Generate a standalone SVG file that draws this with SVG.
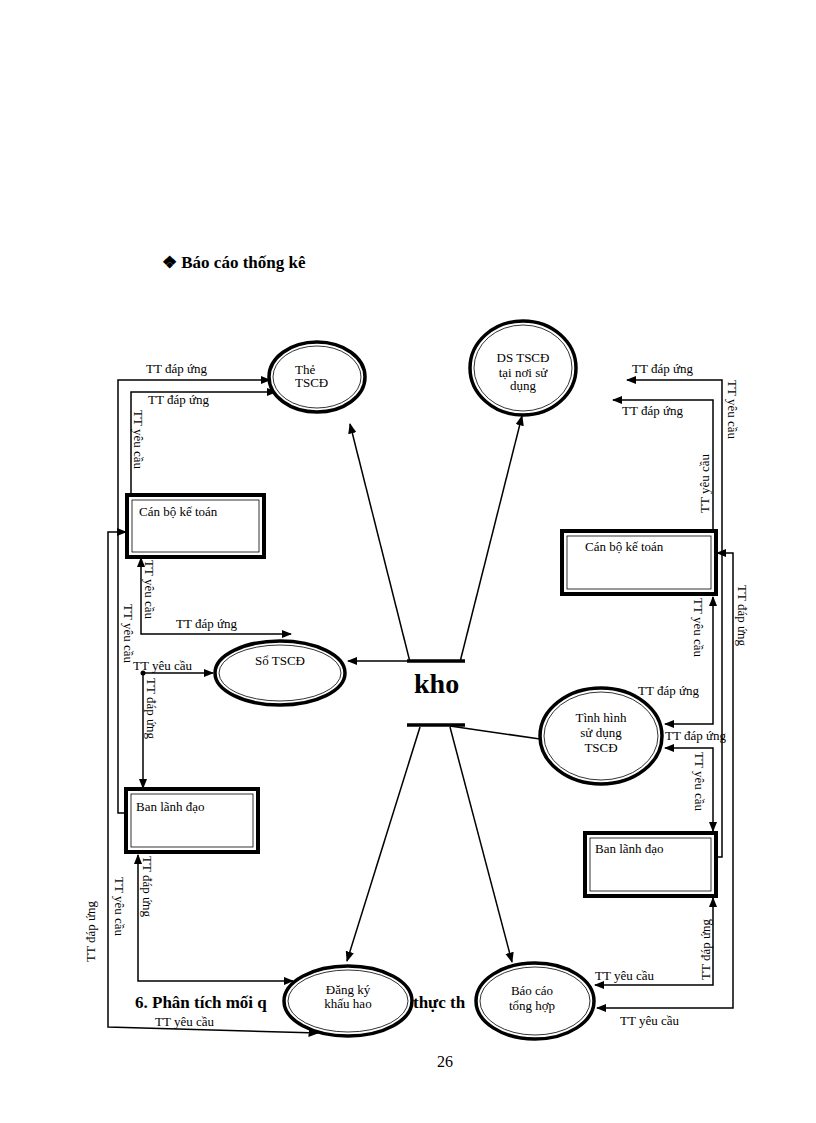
<svg xmlns="http://www.w3.org/2000/svg" width="816" height="1123" viewBox="0 0 816 1123">
<style>
text{font-family:"Liberation Serif","Times New Roman",serif;font-size:13px;fill:#000}
.b{font-weight:bold}
.e{fill:#fff;stroke:#000;stroke-width:3.5}
.ei{fill:none;stroke:#000;stroke-width:0.8}
.r{fill:#fff;stroke:#000;stroke-width:4}
.ri{fill:none;stroke:#000;stroke-width:0.8}
.c{fill:none;stroke:#000;stroke-width:1.5}
</style>
<defs>
<marker id="a" viewBox="0 0 10 10" refX="9" refY="5" markerWidth="7" markerHeight="7" orient="auto-start-reverse"><path d="M0,1 L10,5 L0,9 z"/></marker>
</defs>
<rect width="816" height="1123" fill="#fff"/>
<text x="162" y="268" class="b" style="font-size:17px">❖ Báo cáo thống kê</text>
<text x="135" y="1008" class="b" style="font-size:17px">6. Phân tích mối q</text>
<text x="413" y="1008" class="b" style="font-size:17px">thực th</text>
<text x="437" y="1067" style="font-size:16px">26</text>

<g id="connectors">
<path class="c" d="M410,662 L350,424" marker-end="url(#a)"/>
<path class="c" d="M460,662 L522,416" marker-end="url(#a)"/>
<path class="c" d="M407,661 L348,661" marker-end="url(#a)"/>
<path class="c" d="M450,726 L540,739"/>
<path class="c" d="M420,727 L347,961" marker-end="url(#a)"/>
<path class="c" d="M450,727 L512,962" marker-end="url(#a)"/>
<!-- left -->
<path class="c" d="M125,813 L118,813 L118,380 L270,380" marker-end="url(#a)"/>
<path class="c" d="M131,494 L131,392 L276,392" marker-end="url(#a)"/>
<path class="c" d="M126,532 L108,532 L108,1027 L318,1033" marker-start="url(#a)" marker-end="url(#a)"/>
<path class="c" d="M141,558 L141,634 L291,634" marker-start="url(#a)" marker-end="url(#a)"/>
<path class="c" d="M143,673 L213,673" marker-end="url(#a)"/>
<path class="c" d="M143,673 L143,788" marker-end="url(#a)"/>
<circle cx="143" cy="673" r="2.5"/>
<path class="c" d="M138,855 L138,981 L293,981" marker-start="url(#a)" marker-end="url(#a)"/>
<!-- right -->
<path class="c" d="M716,857 L722,857 L722,380 L627,380" marker-end="url(#a)"/>
<path class="c" d="M722,553 L717,553" marker-end="url(#a)"/>
<path class="c" d="M713,530 L713,400 L613,400"  marker-end="url(#a)"/>
<path class="c" d="M718,553 L733,553 L733,1008 L597,1008" marker-end="url(#a)"/>
<path class="c" d="M713,597 L713,724 L665,724" marker-start="url(#a)" marker-end="url(#a)"/>
<path class="c" d="M665,748 L713,748 L713,831" marker-start="url(#a)" marker-end="url(#a)"/>
<path class="c" d="M713,898 L713,985 L595,985" marker-start="url(#a)" marker-end="url(#a)"/>
</g>
<g id="labels">
<text x="146" y="373">TT đáp ứng</text>
<text x="148" y="404">TT đáp ứng</text>
<text transform="translate(134,410) rotate(90)">TT yêu cầu</text>
<text transform="translate(145,560) rotate(90)">TT yêu cầu</text>
<text transform="translate(124,604) rotate(90)">TT yêu cầu</text>
<text x="176" y="628">TT đáp ứng</text>
<text x="133" y="670">TT yêu cầu</text>
<text transform="translate(147,678) rotate(90)">TT đáp ứng</text>
<text transform="translate(143,856) rotate(90)">TT đáp ứng</text>
<text transform="translate(115,877) rotate(90)">TT yêu cầu</text>
<text transform="translate(95,962) rotate(-90)">TT đáp ứng</text>
<text x="155" y="1026">TT yêu cầu</text>
<text x="632" y="373">TT đáp ứng</text>
<text x="622" y="415">TT đáp ứng</text>
<text transform="translate(728,380) rotate(90)">TT yêu cầu</text>
<text transform="translate(709,513) rotate(-90)">TT yêu cầu</text>
<text transform="translate(738,585) rotate(90)">TT đáp ứng</text>
<text transform="translate(694,598) rotate(90)">TT yêu cầu</text>
<text x="638" y="695">TT đáp ứng</text>
<text x="665" y="740">TT đáp ứng</text>
<text transform="translate(695,752) rotate(90)">TT yêu cầu</text>
<text transform="translate(710,980) rotate(-90)">TT đáp ứng</text>
<text x="595" y="980">TT yêu cầu</text>
<text x="620" y="1025">TT yêu cầu</text>
</g>

<g id="kho">
<line x1="407" y1="661" x2="465" y2="661" stroke="#000" stroke-width="3.5"/>
<line x1="407" y1="725" x2="465" y2="725" stroke="#000" stroke-width="3.5"/>
<text x="414" y="693" class="b" style="font-size:28px">kho</text>
</g>
<g id="the-tscd"><ellipse class="e" cx="317" cy="377" rx="48" ry="35"/><ellipse class="ei" cx="317" cy="377" rx="44" ry="31"/>
<text x="295" y="374">Thẻ</text><text x="295" y="387">TSCĐ</text></g>
<g id="ds-tscd"><ellipse class="e" cx="523" cy="368" rx="53" ry="47"/><ellipse class="ei" cx="523" cy="368" rx="49" ry="43"/>
<text x="523" y="362" text-anchor="middle">DS TSCĐ</text><text x="523" y="377" text-anchor="middle">tại nơi sử</text><text x="523" y="390" text-anchor="middle">dụng</text></g>
<g id="so-tscd"><ellipse class="e" cx="280" cy="673" rx="65" ry="32"/><ellipse class="ei" cx="280" cy="673" rx="61" ry="28"/>
<text x="280" y="665" text-anchor="middle">Sổ TSCĐ</text></g>
<g id="tinh-hinh"><ellipse class="e" cx="601" cy="736" rx="61" ry="48"/><ellipse class="ei" cx="601" cy="736" rx="57" ry="44"/>
<text x="601" y="722" text-anchor="middle">Tình hình</text><text x="601" y="737" text-anchor="middle">sử dụng</text><text x="601" y="752" text-anchor="middle">TSCĐ</text></g>
<g id="dang-ky"><ellipse class="e" cx="348" cy="1001" rx="64" ry="35"/><ellipse class="ei" cx="348" cy="1001" rx="60" ry="31"/>
<text x="348" y="994" text-anchor="middle">Đăng ký</text><text x="348" y="1008" text-anchor="middle">khấu hao</text></g>
<g id="bao-cao"><ellipse class="e" cx="535" cy="1001" rx="59" ry="38"/><ellipse class="ei" cx="535" cy="1001" rx="55" ry="34"/>
<text x="532" y="995" text-anchor="middle">Báo cáo</text><text x="532" y="1010" text-anchor="middle">tổng hợp</text></g>
<g id="cbkt-left"><rect class="r" x="127" y="495" width="137" height="62"/><rect class="ri" x="132" y="500" width="127" height="52"/>
<text x="139" y="516">Cán bộ kế toán</text></g>
<g id="bld-left"><rect class="r" x="126" y="789" width="132" height="63"/><rect class="ri" x="131" y="794" width="122" height="53"/>
<text x="136" y="811">Ban lãnh đạo</text></g>
<g id="cbkt-right"><rect class="r" x="562" y="531" width="154" height="63"/><rect class="ri" x="567" y="536" width="144" height="53"/>
<text x="585" y="551">Cán bộ kế toán</text></g>
<g id="bld-right"><rect class="r" x="585" y="833" width="131" height="63"/><rect class="ri" x="590" y="838" width="121" height="53"/>
<text x="595" y="853">Ban lãnh đạo</text></g>
</svg>
